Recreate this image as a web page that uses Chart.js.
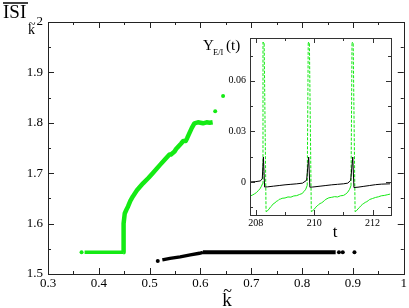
<!DOCTYPE html>
<html><head><meta charset="utf-8">
<script src="https://cdn.jsdelivr.net/npm/chart.js@4"></script>
<style>
html,body{margin:0;padding:0;background:#fff;}
#wrap{position:relative;width:409px;height:308px;overflow:hidden;}
#main{position:absolute;left:0;top:0;}
#inset{position:absolute;left:195px;top:28px;}
</style></head>
<body><div id="wrap"><canvas id="main" width="409" height="308"></canvas><canvas id="inset" width="210" height="216"></canvas></div>
<script>
// ---- main chart data (k~ vs mean ISI / k~) ----
const xTicks = [0.3,0.4,0.5,0.6,0.7,0.8,0.9,1];
const yTicks = [1.5,1.6,1.7,1.8,1.9,2];
const greenFlatK   = [0.372,0.449];
const greenFlatISI = [1.543,1.543];
const greenRiseK   = [0.4485,0.4485,0.449,0.451,0.4545,0.4575,0.462,0.467,0.475,0.487,0.498,0.506,0.52,0.530,0.539,0.542,0.549,0.552,0.562,0.566,0.571,0.574,0.578,0.583,0.588,0.595,0.605,0.612,0.618,0.624];
const greenRiseISI = [1.543,1.575,1.600,1.620,1.628,1.634,1.645,1.654,1.666,1.680,1.691,1.700,1.716,1.727,1.737,1.737,1.743,1.748,1.759,1.764,1.764,1.770,1.779,1.790,1.799,1.801,1.799,1.801,1.800,1.801];
const greenDotK    = [0.366,0.629,0.6445];
const greenDotISI  = [1.543,1.823,1.853];
const blackRiseK   = [0.525,0.54,0.56,0.58,0.598,0.605];
const blackRiseISI = [1.528,1.531,1.534,1.538,1.541,1.543];
const blackFlatK   = [0.605,0.866];
const blackFlatISI = [1.543,1.543];
const blackDotK    = [0.516,0.8725,0.880,0.903];
const blackDotISI  = [1.526,1.543,1.543,1.543];

// ---- inset data (Y_E/I(t)) ----
const insetXTicks = [208,210,212];
const insetYTicks = [0,0.03,0.06];
const tE = [207.80,207.88,207.95,208.02,208.08,208.14,208.19,208.23,208.245,208.285,208.35,
  208.40,208.45,208.50,208.55,208.60,208.65,208.70,208.75,208.80,208.85,208.90,209.00,209.10,209.20,209.30,209.40,209.50,209.58,209.65,209.71,209.76,209.795,209.835,209.90,
  209.95,210.00,210.05,210.10,210.15,210.20,210.25,210.30,210.35,210.40,210.50,210.60,210.70,210.80,210.90,211.00,211.08,211.15,211.21,211.26,211.295,211.335,211.40,
  211.45,211.50,211.55,211.60,211.65,211.70,211.75,211.80,211.85,211.90,212.00,212.10,212.20,212.30,212.40,212.50,212.60];
const yE = [-0.0084,-0.0078,-0.0071,-0.0063,-0.0052,-0.0041,-0.0026,-0.0010,0.083,0.082,-0.0176,
  -0.0171,-0.0161,-0.0149,-0.0141,-0.0129,-0.0125,-0.0115,-0.0112,-0.0103,-0.0101,-0.0097,-0.0095,-0.0089,-0.0090,-0.0083,-0.0081,-0.0074,-0.0069,-0.0057,-0.0043,-0.0020,0.083,0.082,-0.0176,
  -0.0170,-0.0162,-0.0150,-0.0143,-0.0134,-0.0128,-0.0124,-0.0118,-0.0110,-0.0103,-0.0094,-0.0091,-0.0087,-0.0089,-0.0082,-0.0080,-0.0072,-0.0060,-0.0044,-0.0022,0.083,0.082,-0.0176,
  -0.0170,-0.0160,-0.0151,-0.0141,-0.0133,-0.0127,-0.0121,-0.0117,-0.0111,-0.0104,-0.0098,-0.0092,-0.0088,-0.0082,-0.0080,-0.0076,-0.0072];
const tI = [207.80,208.00,208.15,208.22,208.26,208.30,208.40,208.60,208.80,209.00,209.20,209.40,209.60,209.74,209.81,209.85,209.95,210.20,210.40,210.60,210.80,211.00,211.15,211.25,211.32,211.36,211.50,211.70,211.90,212.10,212.30,212.60];
const yI = [0.0000,0.0002,0.0006,0.0018,0.0148,-0.0030,-0.0029,-0.0025,-0.0021,-0.0017,-0.0014,-0.0011,-0.0007,0.0010,0.0148,-0.0031,-0.0030,-0.0025,-0.0021,-0.0017,-0.0014,-0.0011,-0.0007,0.0010,0.0148,-0.0033,-0.0031,-0.0026,-0.0021,-0.0016,-0.0013,-0.0011];

const GREEN = '#14ea14';
const SERIF = '"Liberation Serif", "Times New Roman", "DejaVu Serif", serif';
const pts = (xs, ys) => xs.map((x,i)=>({x:x, y:ys[i]}));
const fmt = v => String(+(+v).toFixed(4));

function tickPlugin(xStep, yStep, xMajorStep, yMajorStep, majLen, minLen, frameColor) {
  return {
    id:'ticks',
    beforeDraw(chart){
      const a = chart.chartArea, c = chart.ctx;
      c.save(); c.fillStyle='#fff'; c.fillRect(a.left,a.top,a.right-a.left,a.bottom-a.top); c.restore();
    },
    afterDraw(chart){
      const a = chart.chartArea, c = chart.ctx, xs = chart.scales.x, ys = chart.scales.y;
      c.save();
      c.strokeStyle = frameColor; c.lineWidth = 1;
      const isMaj = (v, s) => Math.abs(v/s - Math.round(v/s)) < 1e-6;
      c.beginPath();
      for (let v = Math.ceil(xs.min/xStep-1e-9)*xStep; v <= xs.max+1e-9; v += xStep) {
        const p = Math.round(xs.getPixelForValue(v))+0.5, L = isMaj(v,xMajorStep)?majLen:minLen;
        c.moveTo(p,a.bottom); c.lineTo(p,a.bottom-L);
        c.moveTo(p,a.top); c.lineTo(p,a.top+L);
      }
      for (let v = Math.ceil(ys.min/yStep-1e-9)*yStep; v <= ys.max+1e-9; v += yStep) {
        const p = Math.round(ys.getPixelForValue(v))+0.5, L = isMaj(v,yMajorStep)?majLen:minLen;
        c.moveTo(a.left,p); c.lineTo(a.left+L,p);
        c.moveTo(a.right,p); c.lineTo(a.right-L,p);
      }
      c.stroke();
      c.strokeRect(Math.round(a.left)+0.5, Math.round(a.top)+0.5, Math.round(a.right-a.left), Math.round(a.bottom-a.top));
      c.restore();
    }
  };
}

const mainLabels = {
  id:'mainLabels',
  afterDraw(chart){
    const c = chart.ctx;
    c.save(); c.fillStyle='#000'; c.strokeStyle='#000';
    c.font = "19px "+SERIF; c.textBaseline='alphabetic'; c.textAlign='left';
    c.fillText('ISI', 3, 18);
    c.lineWidth=1.5; c.beginPath(); c.moveTo(3,3); c.lineTo(28,3); c.stroke();
    c.font = "14px "+SERIF; c.fillText('k', 28, 34);
    c.font = "13px "+SERIF; c.fillText('~', 28.5, 28);
    c.textAlign='center';
    c.font = "19px "+SERIF; c.fillText('k', 227, 306);
    c.font = "16px "+SERIF; c.fillText('~', 227.5, 296);
    c.restore();
  }
};

const insetLabels = {
  id:'insetLabels',
  afterDraw(chart){
    const c = chart.ctx;
    c.save(); c.fillStyle='#000'; c.textBaseline='alphabetic'; c.textAlign='left';
    c.font = "15px "+SERIF; c.fillText('Y', 8, 22);
    c.font = "8.5px "+SERIF; c.fillText('E/I', 18, 27);
    c.font = "15px "+SERIF; c.fillText('(t)', 31, 22);
    c.textAlign='center'; c.font = "17px "+SERIF; c.fillText('t', 140, 209);
    c.restore();
  }
};

function build(){
new Chart(document.getElementById('main'), {
  type:'scatter',
  data:{datasets:[
    {data:pts(blackDotK,blackDotISI), showLine:false, pointRadius:2, pointBackgroundColor:'#000', pointBorderWidth:0},
    {data:pts(blackRiseK,blackRiseISI), showLine:true, borderColor:'#000', borderWidth:3.5, pointRadius:0},
    {data:pts(blackFlatK,blackFlatISI), showLine:true, borderColor:'#000', borderWidth:4, pointRadius:0},
    {data:pts(greenDotK,greenDotISI), showLine:false, pointRadius:2, pointBackgroundColor:GREEN, pointBorderWidth:0},
    {data:pts(greenFlatK,greenFlatISI), showLine:true, borderColor:GREEN, borderWidth:3.5, pointRadius:0},
    {data:pts(greenRiseK,greenRiseISI), showLine:true, borderColor:GREEN, borderWidth:4.5, pointRadius:0, borderJoinStyle:'round'}
  ]},
  options:{
    responsive:false, animation:false, devicePixelRatio:1,
    layout:{padding:{left:0,top:22,right:5,bottom:0}},
    plugins:{legend:{display:false}, tooltip:{enabled:false}},
    scales:{
      x:{type:'linear', min:0.3, max:1,
         afterBuildTicks: s => { s.ticks = xTicks.map(v=>({value:v})); },
         afterFit: s => { s.height = 34; },
         grid:{display:false, drawTicks:false}, border:{display:false},
         ticks:{padding:2, color:'#000', font:{family:SERIF, size:13}, callback: fmt, maxRotation:0, autoSkip:false}},
      y:{type:'linear', min:1.5, max:2,
         afterBuildTicks: s => { s.ticks = yTicks.map(v=>({value:v})); },
         afterFit: s => { s.width = 48; },
         grid:{display:false, drawTicks:false}, border:{display:false},
         ticks:{padding:5, color:'#000', font:{family:SERIF, size:13}, callback: fmt, autoSkip:false}}
    }
  },
  plugins:[tickPlugin(0.05,0.05,0.1,0.1,6,3,'#222'), mainLabels]
});

new Chart(document.getElementById('inset'), {
  type:'line',
  data:{datasets:[
    {data:pts(tI,yI), borderColor:'#000', borderWidth:1, pointRadius:0, tension:0},
    {data:pts(tE,yE), borderColor:GREEN, borderWidth:1, pointRadius:0, tension:0,
     segment:{borderDash: ctx => Math.abs(ctx.p1.parsed.y-ctx.p0.parsed.y) > 0.01 ? [3,1.5] : undefined}}
  ]},
  options:{
    responsive:false, animation:false, devicePixelRatio:1,
    layout:{padding:{left:0,top:6,right:14,bottom:0}},
    plugins:{legend:{display:false}, tooltip:{enabled:false}},
    scales:{
      x:{type:'linear', min:207.8, max:212.63,
         afterBuildTicks: s => { s.ticks = insetXTicks.map(v=>({value:v})); },
         afterFit: s => { s.height = 29; },
         grid:{display:false, drawTicks:false}, border:{display:false},
         ticks:{padding:2, color:'#000', font:{family:SERIF, size:10}, callback: fmt, maxRotation:0, autoSkip:false}},
      y:{type:'linear', min:-0.0196, max:0.0854,
         afterBuildTicks: s => { s.ticks = insetYTicks.map(v=>({value:v})); },
         afterFit: s => { s.width = 55; },
         grid:{display:false, drawTicks:false}, border:{display:false},
         ticks:{padding:4, color:'#000', font:{family:SERIF, size:10}, callback: fmt, autoSkip:false}}
    }
  },
  plugins:[tickPlugin(1,0.015,2,0.03,5,3,'#333'), insetLabels]
});
}
build();
</script></body></html>
